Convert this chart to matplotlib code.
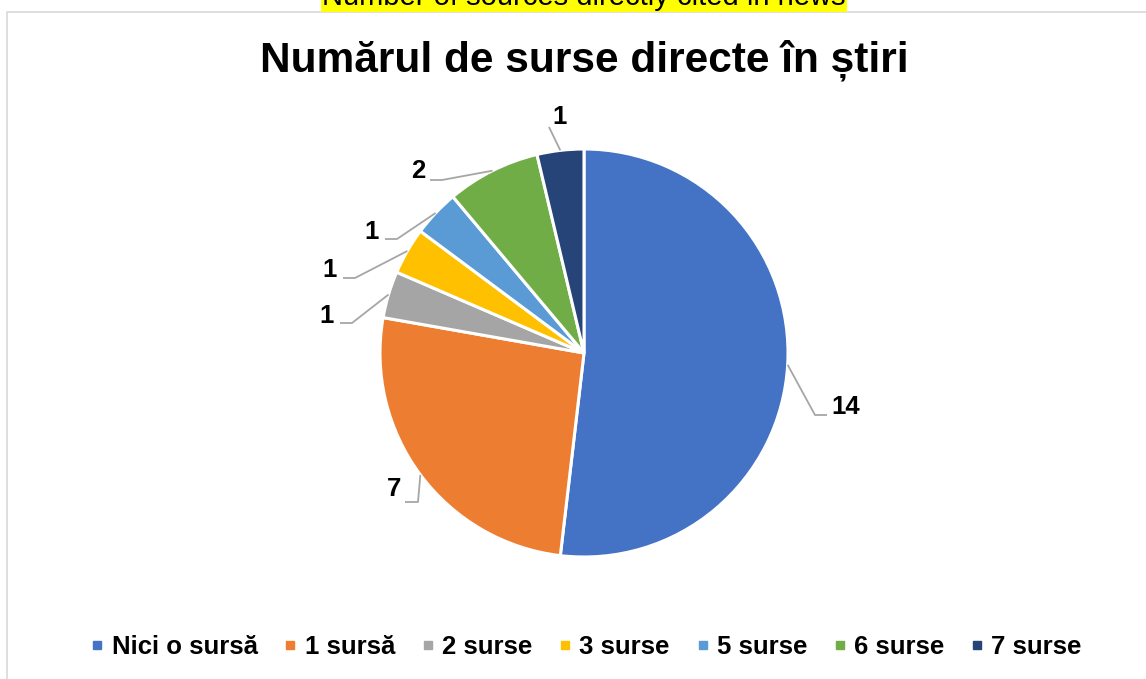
import numpy as np
import matplotlib
matplotlib.use('Agg')
import matplotlib.pyplot as plt
from matplotlib.lines import Line2D
from matplotlib.patches import Rectangle

plt.rcParams['font.family'] = ['Liberation Sans', 'DejaVu Sans']

# date
categories = ['Nici o sursă', '1 sursă', '2 surse', '3 surse', '5 surse', '6 surse', '7 surse']
values = [14, 7, 1, 1, 1, 2, 1]
colors = ['#4472C4', '#ED7D31', '#A5A5A5', '#FFC000', '#5B9BD5', '#70AD47', '#264478']

title = 'Numărul de surse directe în știri'
top_note = 'Number of sources directly cited in news'

W, H = 1146, 679
CX, CY, R = 584, 353, 204   # centrul si raza pie-ului, in pixeli


def px(x, y):
    """pixeli (origine sus-stanga) -> coordonate date (raza = 1)"""
    return (x - CX) / R, (CY - y) / R


# pozitii etichete / linii de legatura (pixeli)
knees = [(815, 415), (418, 502), (352, 323), (355, 278), (397, 239), (442, 180), (549, 127)]
ends = [(827, 415), (405, 502), (340, 323), (343, 278), (385, 239), (430, 180), (549, 127)]
label_pos = [(831, 407), (401, 489), (334, 316), (337, 270), (379, 232), (425, 171), (560, 117)]
label_ha = ['left', 'right', 'right', 'right', 'right', 'right', 'center']

fig = plt.figure(figsize=(W / 100, H / 100), dpi=100)
ax = fig.add_axes([0, 0, 1, 1])

ax.pie(values, colors=colors, startangle=90, counterclock=False, radius=1, center=(0, 0),
       wedgeprops=dict(edgecolor='white', linewidth=2.2))

# linii de legatura + valori
total = sum(values)
cum = np.cumsum(values)
for i, v in enumerate(values):
    ang = np.deg2rad(90 - (cum[i] - v / 2) / total * 360)
    ex, ey = np.cos(ang), np.sin(ang)
    kx, ky = px(*knees[i])
    nx, ny = px(*ends[i])
    ax.plot([ex, kx, nx], [ey, ky, ny], color='#A6A6A6', lw=1.3, solid_capstyle='butt', zorder=1)
    tx, ty = px(*label_pos[i])
    ax.text(tx, ty, str(v), ha=label_ha[i], va='center', fontsize=18.5, fontweight='bold', color='black')

ax.set_xlim(-CX / R, (W - CX) / R)
ax.set_ylim(-(H - CY) / R, CY / R)
ax.axis('off')

# chenarul graficului
fig.patches.append(Rectangle((7 / W, -0.2), 1.2, 1.2 - 12 / H, transform=fig.transFigure,
                             facecolor='none', edgecolor='#D9D9D9', lw=1.2, zorder=0))

# textul galben, taiat sus (asa apare si in original)
fig.text(584 / W, 1 - 5 / H, top_note, ha='center', va='baseline', fontsize=21, color='black',
         bbox=dict(boxstyle='square,pad=0.05', facecolor='#FFFF00', edgecolor='none'))

fig.text(584 / W, 1 - 60 / H, title, ha='center', va='center', fontsize=30.5, fontweight='bold')

handles = [Line2D([], [], marker='s', linestyle='none', markersize=5.5, markerfacecolor=c,
                  markeredgecolor=c) for c in colors]
leg = fig.legend(handles, categories, loc='center', bbox_to_anchor=(587 / W, 1 - 647 / H), ncol=7,
                 frameon=False, handlelength=0.4, handletextpad=0.35, columnspacing=1.08,
                 prop={'size': 18.5, 'weight': 'bold'})

fig.savefig('out.png', dpi=100)
plt.close(fig)
